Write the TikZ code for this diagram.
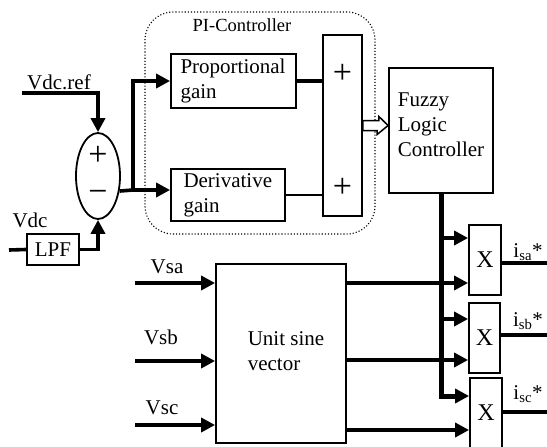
\documentclass[tikz,border=0pt]{standalone}
\usepackage{fontspec}
\setmainfont{Liberation Serif}
\usetikzlibrary{positioning,arrows.meta,shapes.geometric}

\begin{document}
\begin{tikzpicture}[
        x=1pt, y=-1pt,
        font=\fontsize{21}{25}\selectfont,
        box/.style={draw, line width=1.8pt, align=left, inner sep=0pt},
        sign/.style={font=\fontsize{34}{34}\selectfont, inner sep=0pt, text height=0.5em, text depth=0pt},
        wire/.style={line width=3.6pt},
        >={Triangle[length=14pt, width=14pt]}
    ]
        \useasboundingbox (0,0) rectangle (547,447);
        \node[draw, dotted, line width=1.1pt, rounded corners=28pt, minimum width=230pt, minimum height=222pt] (pi) at (260,123) {};
        \node[font=\fontsize{18.5}{20}\selectfont] (pilbl) at (242,25) {PI-Controller};
        \node[box, minimum width=125pt, minimum height=54pt, text width=106pt] (prop) at (233.5,81) {Proportional\\gain};
        \node[box, minimum width=114pt, minimum height=52pt, text width=89pt] (deriv) at (228,195) {Derivative\\gain};
        \node[box, minimum width=39pt, minimum height=181pt] (sum) at (342.5,125.5) {};
        \node[sign] (sump) at (sum.center |- prop.east) {+};
        \node[sign] (sumd) at (sum.center |- deriv.east) {+};
        \node[box, minimum width=104pt, minimum height=125pt] (flc) at (441,130.5) {};
        \node[align=left, inner sep=0pt] (flct) at (441,125) {Fuzzy\\Logic\\Controller};
        \node[ellipse, draw, line width=1.8pt, minimum width=44pt, minimum height=86pt, inner sep=0pt] (err) at (98,176) {};
        \node[sign] (errp) at (98,163) {+};
        \node[sign] (errm) at (98,200) {−};
        \node[box, minimum width=52pt, minimum height=31pt] (lpf) at (53,249.5) {LPF};
        \node[box, minimum width=130pt, minimum height=179pt] (usv) at (281,353.5) {};
        \node[align=left, inner sep=0pt] (usvt) at (286,351.5) {Unit sine\\vector};
        \node[box, minimum width=32pt, minimum height=70pt, font=\fontsize{24}{24}\selectfont] (xa) at (485,260) {X};
        \node[box, minimum width=31pt, minimum height=70pt, font=\fontsize{24}{24}\selectfont] (xb) at (484.5,338) {X};
        \node[box, minimum width=32pt, minimum height=70pt, font=\fontsize{24}{24}\selectfont] (xc) at (486,413) {X};
        \node (vrefl) at (59,82) {Vdc.ref};
        \node (vdcl) at (30,220) {Vdc};
        \node (vsal) at (167,267) {Vsa};
        \node (vsbl) at (161,337) {Vsb};
        \node (vscl) at (162,408) {Vsc};
        \node (ial) at (528,252) {i\textsubscript{sa}*};
        \node (ibl) at (528,321) {i\textsubscript{sb}*};
        \node (icl) at (528,394) {i\textsubscript{sc}*};
        \coordinate (vref) at (22,93);
        \coordinate (vdc) at (9,250);
        \coordinate (jn) at (133,190);
        \coordinate (vsa) at (135,283);
        \coordinate (vsb) at (135,361);
        \coordinate (vsc) at (135,425);
        \coordinate (oa) at (547,263);
        \coordinate (ob) at (547,335);
        \coordinate (oc) at (547,412);
        \draw[wire, ->] (vref) -| (err.north);
        \draw[wire] (vdc) -- (lpf.west);
        \draw[wire, ->] (lpf.east) -| (err.south);
        \draw[wire] (err.-35) -- (jn);
        \draw[wire, ->] (jn) |- (prop.west);
        \draw[wire, ->] (jn) -- (jn -| deriv.west);
        \draw[wire] (prop.east) -- (prop.east -| sum.west);
        \draw[line width=2.6pt] (deriv.east) -- (deriv.east -| sum.west);
        \draw[line width=1.5pt, fill=white] ([yshift=5pt]sum.east) -- ++(16,0) -- ++(0,-4) -- (sum.east -| flc.west) -- ++(-11,9) -- ++(0,-4) -- ([yshift=-5pt]sum.east) -- cycle;
        \draw[line width=5pt, ->] (flc.south) |- ([yshift=17pt]xc.west);
        \foreach \m/\up in {xa/22, xb/19}
            \draw[wire, ->] ([yshift=\up pt]\m.west -| flc.south) -- ([yshift=\up pt]\m.west);
        \foreach \m/\dn in {xa/-23, xb/-22, xc/-17}
            \draw[wire, ->] ([yshift=\dn pt]\m.west -| usv.east) -- ([yshift=\dn pt]\m.west);
        \foreach \v in {vsa, vsb, vsc}
            \draw[wire, ->] (\v) -- (\v -| usv.west);
        \draw[wire] (xa.east |- oa) -- (oa);
        \draw[wire] (xb.east |- ob) -- (ob);
        \draw[wire] (xc.east |- oc) -- (oc);
    \end{tikzpicture}
\end{document}
